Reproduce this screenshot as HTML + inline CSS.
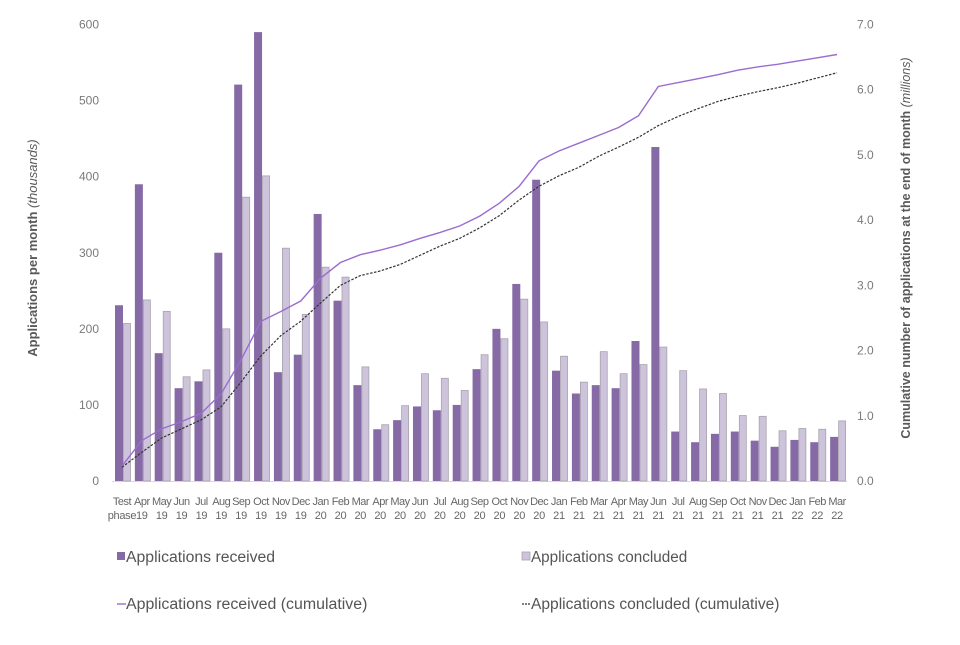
<!DOCTYPE html>
<html><head><meta charset="utf-8"><style>
body{margin:0;background:#fff;font-family:"Liberation Sans",Arial,sans-serif;}
svg text{font-family:"Liberation Sans",Arial,sans-serif;}
</style></head><body>
<svg id="chart" width="960" height="640" viewBox="0 0 960 640" xmlns="http://www.w3.org/2000/svg">
<g id="axes"></g><g id="bars"></g><g id="lines"></g><g id="legend"></g>
</svg>
<script>
const months = ["Test|phase","Apr|19","May|19","Jun|19","Jul|19","Aug|19","Sep|19","Oct|19","Nov|19","Dec|19","Jan|20","Feb|20","Mar|20","Apr|20","May|20","Jun|20","Jul|20","Aug|20","Sep|20","Oct|20","Nov|20","Dec|20","Jan|21","Feb|21","Mar|21","Apr|21","May|21","Jun|21","Jul|21","Aug|21","Sep|21","Oct|21","Nov|21","Dec|21","Jan|22","Feb|22","Mar|22"];
const received = [231,390,168,122,131,300,521,590,143,166,351,237,126,68,80,98,93,100,147,200,259,396,145,115,126,122,184,439,65,51,62,65,53,45,54,51,58];
const concluded = [207,238,223,137,146,200,373,401,306,219,281,268,150,74,99,141,135,119,166,187,239,209,164,130,170,141,153,176,145,121,115,86,85,66,69,68,79];
const receivedCum = [0.23,0.62,0.80,0.91,1.04,1.34,1.86,2.45,2.60,2.76,3.11,3.35,3.47,3.54,3.62,3.72,3.81,3.91,4.06,4.26,4.52,4.91,5.06,5.18,5.30,5.42,5.60,6.05,6.11,6.17,6.23,6.30,6.35,6.39,6.44,6.49,6.54];
const concludedCum = [0.21,0.44,0.66,0.80,0.94,1.14,1.52,1.92,2.23,2.45,2.73,3.00,3.15,3.22,3.32,3.46,3.60,3.72,3.88,4.07,4.31,4.52,4.68,4.81,4.98,5.12,5.27,5.45,5.59,5.71,5.82,5.90,5.97,6.03,6.10,6.18,6.26];
const leftTicks = [0,100,200,300,400,500,600];
const rightTicks = [0,1,2,3,4,5,6,7];

const NS="http://www.w3.org/2000/svg";
const X0=112, X1=847, Y0=481, Y1=24.5;
const band=(X1-X0)/months.length;
const yL=v=>Y0-(v/600)*(Y0-Y1);
const yR=v=>Y0-(v/7)*(Y0-Y1);
const xBand=i=>X0+i*band;
function mk(tag,attrs,parent,text){const e=document.createElementNS(NS,tag);for(const k in attrs)e.setAttribute(k,attrs[k]);if(text!==undefined)e.textContent=text;parent.appendChild(e);return e;}
const axes=document.getElementById('axes'),bars=document.getElementById('bars'),lines=document.getElementById('lines'),legend=document.getElementById('legend');

leftTicks.forEach(t=>{const e=mk('text',{x:99,y:yL(t)+4,'text-anchor':'end','font-size':12,fill:'#7a7a7a'},axes,String(t));

});
rightTicks.forEach(t=>{const e=mk('text',{x:857,y:yR(t)+4,'font-size':12,fill:'#7a7a7a'},axes,t.toFixed(1));

});
const bl=mk('line',{x1:X0,x2:X1,y1:Y0+0.5,y2:Y0+0.5,stroke:'#d9d9d9','stroke-width':1},axes);



months.forEach((m,i)=>{const c=xBand(i)+band/2;const p=m.split('|');
const t=mk('text',{x:c,y:505,'text-anchor':'middle','font-size':11,fill:'#666','letter-spacing':'-0.5'},axes,p[0]);


const t2=mk('text',{x:c,y:519,'text-anchor':'middle','font-size':11,fill:'#666','letter-spacing':'-0.3'},axes,p[1]);


const bw=8;
const r=mk('rect',{x:xBand(i)+3,y:yL(received[i]),width:bw,height:Y0-yL(received[i]),fill:'#866aa6'},bars);


const r2=mk('rect',{x:xBand(i)+3+bw+0.5,y:yL(concluded[i]),width:bw-1,height:Y0-yL(concluded[i]),fill:'#cdc4dc',stroke:'#a7a2ad','stroke-width':0.8},bars);


});
const pts1=receivedCum.map((v,i)=>(xBand(i)+band/2)+','+yR(v)).join(' ');
const pts2=concludedCum.map((v,i)=>(xBand(i)+band/2)+','+yR(v)).join(' ');
const l1=mk('polyline',{points:pts1,fill:'none',stroke:'#9b6cd0','stroke-width':1.4},lines);


const l2=mk('polyline',{points:pts2,fill:'none',stroke:'#333','stroke-width':1.2,'stroke-dasharray':'2.5,1.5'},lines);



const yt=mk('text',{transform:'translate(37,248) rotate(-90)','text-anchor':'middle','font-size':13,'font-weight':'bold',fill:'#595959'},axes);


yt.innerHTML='Applications per month <tspan font-style="italic" font-weight="normal">(thousands)</tspan>';
const rt=mk('text',{transform:'translate(910,248) rotate(-90)','text-anchor':'middle','font-size':12.5,'font-weight':'bold',fill:'#595959'},axes);


rt.innerHTML='Cumulative number of applications at the end of month <tspan font-style="italic" font-weight="normal">(millions)</tspan>';

function legItem(x,y,kind,label,name){const g=mk('g',{},legend);


if(kind==='dark')mk('rect',{x:x,y:y-10,width:8,height:8,fill:'#866aa6'},g);
if(kind==='light')mk('rect',{x:x,y:y-10,width:8,height:8,fill:'#cdc4dc',stroke:'#a7a2ad','stroke-width':0.8},g);
if(kind==='line')mk('line',{x1:x,x2:x+9,y1:y-5,y2:y-5,stroke:'#9b6cd0','stroke-width':1.4},g);
if(kind==='dash')mk('line',{x1:x,x2:x+9,y1:y-5,y2:y-5,stroke:'#333','stroke-width':1.2,'stroke-dasharray':'2,1'},g);
mk('text',{x:x+9,y:y,'font-size':15.5,fill:'#555',textLength:label.length*7.1,lengthAdjust:'spacingAndGlyphs'},g,label);}
legItem(117,562,'dark','Applications received','legend-received');
legItem(522,562,'light','Applications concluded','legend-concluded');
legItem(117,609,'line','Applications received (cumulative)','legend-received-cumulative');
legItem(522,609,'dash','Applications concluded (cumulative)','legend-concluded-cumulative');
</script>
</body></html>
